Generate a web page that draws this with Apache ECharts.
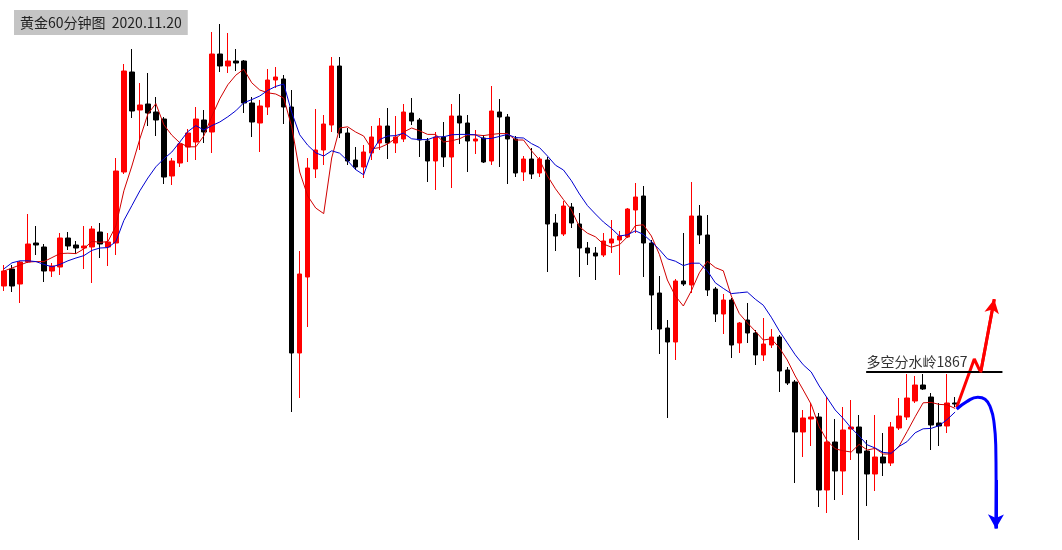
<!DOCTYPE html>
<html>
<head>
<meta charset="utf-8">
<script src="https://cdn.jsdelivr.net/npm/echarts@6/dist/echarts.min.js"></script>
<style>
html,body{margin:0;padding:0;background:#fff;}
#chart{width:1062px;height:550px;}
</style>
</head>
<body>
<div id="chart"></div>
<script>
// ---- data (gold, 60-minute bars, up to 2020.11.20) ----
var titleText = '黄金60分钟图  2020.11.20';
var levelLabel = '多空分水岭1867';
var levelValue = 1867;

var opens = [1888.5,1892.75,1889,1894.5,1899.25,1898.25,1892.25,1893.25,1900.5,1898.75,
1898,1898.25,1902,1898.25,1899.25,1917,1942,1932.5,1934,1932,
1930.25,1916,1919.25,1923.25,1924.5,1930,1927,1946.5,1943.5,1944.75,
1944.75,1934.25,1929.25,1933.25,1940,1940.25,1933.25,1871.75,1890.75,1917.75,
1922.5,1928.75,1943.5,1926.75,1920,1918.25,1921.75,1924.25,1928.5,1924.25,
1925.25,1931.75,1930,1924.75,1919.75,1925.75,1920.75,1931,1929.25,1924.75,
1925.5,1919.75,1932,1930.75,1925.25,1917,1920.25,1916.75,1920,1904.25,
1901.5,1908.25,1904,1898,1896.75,1896.25,1899.25,1900,1900.75,1907.5,
1911,1899.25,1886.75,1878,1874.5,1889.75,1888.75,1906,1901.25,1887.75,
1881.5,1885,1874.25,1880,1876.75,1871.25,1873.75,1875.75,1867.5,1864.5,
1852,1855.25,1855.75,1837.5,1849.5,1842.25,1852.75,1853.25,1847.25,1841.5,
1845.75,1844.25,1853,1855.75,1859.75,1863.75,1860.75,1854.25,1853.5,1859.25];

var closes = [1892.25,1888.5,1894.5,1899,1898.75,1892.25,1893.5,1900.5,1898.5,1898,
1898.5,1902.75,1899,1899.5,1917.25,1942.25,1932.25,1933.75,1931.75,1930,
1915.75,1919.75,1924,1926.75,1930.25,1927,1946.5,1943.5,1944.75,1944.25,
1934.25,1929.5,1933.5,1940,1940.75,1933.25,1871.75,1891.5,1918,1922.5,
1929,1943.5,1926.75,1919.75,1918.25,1922,1925.75,1928.5,1924.25,1925.75,
1932,1929.75,1925,1919.75,1925.75,1920.75,1931,1929.25,1924.75,1925.25,
1919.5,1932.25,1930.75,1925.25,1916.75,1920.25,1916.5,1920.25,1904,1901,
1908.5,1904.25,1898,1896.75,1896,1899.75,1900.25,1901,1907.75,1910.75,
1899.25,1886.25,1877.75,1874.5,1889.75,1889,1906,1901.25,1887.5,1881.5,
1885,1873.75,1879.25,1876.75,1871.25,1874,1875.75,1867.25,1864.25,1852,
1855.5,1855.75,1837.5,1849.5,1842.25,1852.5,1853.25,1846.75,1841.5,1845.75,
1844.25,1853.25,1856,1860.5,1863.75,1862.75,1853.75,1853.5,1859.25,1859];

var lows = [1887.25,1887,1884.25,1894.25,1896.25,1889.5,1890.75,1891.25,1897.5,1896.5,
1892.75,1889.25,1895.5,1893.5,1896.25,1916.5,1930.5,1922.5,1928.5,1926,
1914,1913.75,1918.25,1919.5,1920,1924.25,1921.75,1942,1941.75,1942.25,
1931.75,1925.75,1922,1931.25,1938,1929,1857,1860.5,1878.25,1915.5,
1918.75,1927,1925.5,1918.75,1917.5,1915.5,1920,1922.5,1920.25,1921.75,
1924.5,1928.75,1920.75,1914.5,1912.5,1918.25,1913,1924,1917,1921.5,
1919.25,1918.75,1918.25,1914,1915.75,1914.75,1915.25,1915.75,1892,1897.25,
1901,1903,1890.75,1893.75,1890,1895.75,1896.75,1891.25,1900.5,1901.75,
1890.75,1877.5,1871.5,1855.5,1870,1888.5,1886.75,1899,1886,1879.5,
1876.5,1870.5,1871.75,1874.25,1868.75,1869.75,1873,1862,1863.75,1839.25,
1845.75,1848.5,1833.25,1831.75,1835,1836.25,1845,1825,1833.5,1837.25,
1841,1843.5,1852.5,1855,1859.25,1862.5,1847.5,1848.5,1851.75,1858.25];

var highs = [1893.75,1893.75,1894.75,1906.5,1903.5,1899,1894.25,1901.75,1902,1899.75,
1903.5,1903.5,1904.25,1901.75,1920.5,1944,1947.75,1939.25,1941.75,1935.75,
1930.75,1920.5,1924.5,1927.75,1933.25,1932.5,1952,1954,1951.75,1947.75,
1945,1935.75,1935,1942.75,1943.25,1941.25,1937.5,1897.25,1920.5,1932.75,
1931.25,1945.75,1945.75,1928,1923.25,1923.75,1928.5,1930.5,1933,1931,
1934,1935.5,1930.5,1925.5,1927,1929.5,1934,1936.5,1931.25,1927.5,
1926.25,1938.5,1935.25,1931.5,1926,1921,1923,1920.75,1920.75,1906.5,
1909.75,1909.25,1906.75,1899.5,1898.25,1901.75,1905,1902.25,1908,1914.25,
1913.5,1900,1891,1880,1890.25,1901.75,1914.5,1908.75,1906.25,1888.25,
1886.5,1885.5,1879.5,1884.25,1877.5,1880.5,1877.75,1876.25,1868.25,1865,
1857.5,1859.25,1856.75,1860.75,1855.25,1858.25,1860,1856.25,1850,1856.25,
1851.75,1854.5,1860.5,1866.5,1866,1866.5,1861.75,1859.25,1866.5,1860.75];

// fast moving average (red)
var maFast = [1892.25,1893,1893.75,1894.5,1894.6,1894.6,1895.6,1896.6,1896.7,1896.6,
1897.8,1899.7,1899.4,1899.6,1903.5,1912.3,1918.5,1925.3,1931.5,1934.1,
1928.8,1926.2,1924.3,1923.3,1923.3,1926,1930.9,1935.3,1938.8,1941.2,
1942.7,1939.3,1937.5,1936.8,1936.5,1935.5,1928.3,1917,1911,1908,
1906.6,1920.5,1928,1928.3,1927,1926,1922.8,1923.1,1924,1925.4,
1927,1928,1927.3,1926.4,1926.4,1924.5,1924.8,1925.3,1926.3,1926.3,
1926.1,1926.4,1926.6,1926.6,1925,1925,1922.3,1920,1916,1912.8,
1910.1,1907.5,1903.3,1901.7,1900.8,1899,1898.2,1898.8,1900.8,1903.6,
1903.8,1901,1896.4,1890,1886,1883.5,1887.3,1891.8,1894.7,1893.1,
1892.3,1886,1881.6,1879.3,1877.2,1875,1875.3,1873.1,1870,1866,
1862.5,1858.9,1853.3,1849.8,1847.8,1847.3,1847,1848.9,1847.5,1847.9,
1846.5,1846.5,1848.5,1852.1,1855.8,1859.3,1859.4,1858.9,1858.8,1857.9];

// slow moving average (blue)
var maSlow = [1892.8,1894.3,1894.8,1894.8,1894.6,1893.9,1893.3,1893.9,1894.8,1895.5,
1896.1,1897.4,1898,1898.1,1899.6,1904.9,1908.6,1912.3,1915.5,1918.3,
1920.3,1922,1924.5,1927.1,1928.6,1927.5,1928.6,1929.5,1930.8,1932.3,
1934.3,1935.1,1936,1937.4,1938.4,1939,1931.9,1926.3,1923.7,1921.8,
1921,1922.3,1921.7,1919.8,1917.6,1916.3,1922,1925.1,1926,1926.1,
1926.7,1925.3,1925.1,1925.1,1925.8,1925.8,1926.3,1926.4,1926.4,1926.3,
1925.3,1925.4,1925.9,1926.4,1925.6,1925.5,1924.1,1923.1,1921,1918.7,
1917.5,1914.8,1911.5,1908.6,1906.5,1904.5,1902.9,1901,1901.3,1902.3,
1901.4,1899.6,1897.6,1895.3,1894.7,1893.6,1894.2,1894.2,1892.3,1889.3,
1887.9,1886.6,1886.8,1887,1885.2,1883.7,1880.7,1877.3,1874.3,1871.3,
1868.8,1867,1863.5,1860.5,1857.5,1855.4,1853,1851,1848.8,1848,
1846.9,1846.7,1848.4,1849.6,1851.8,1852.8,1852.9,1853.6,1855.1,1857];

// drawn scenario arrows: x in bar index units, y in price
var upPathX = [119.2, 121.4, 122.2, 123.9];
var upPathY = [1858.1, 1870.25, 1866.9, 1885.2];
var downPathX = [119.2, 120.46, 121.84, 122.75, 123.46, 123.88, 124.09, 124.13, 124.1];
var downPathY = [1857.7, 1859.6, 1860.7, 1860.2, 1857.9, 1854.2, 1848.3, 1840, 1827.9];
var levelStartX = 107.9, levelEndX = 124.9;

var totalSlots = 132;
var categories = [];
for (var k = 0; k < totalSlots; k++) categories.push(String(k + 1));

// ---- build ----
var candleData = opens.map(function (o, i) { return [o, closes[i], lows[i], highs[i]]; });
function pairs(xs, ys) { return xs.map(function (x, i) { return [x, ys[i]]; }); }
var upPts = pairs(upPathX, upPathY);
var downPts = pairs(downPathX, downPathY);

var chart = echarts.init(document.getElementById('chart'), null, {renderer: 'canvas'});
chart.setOption({
  animation: false,
  backgroundColor: '#ffffff',
  title: {
    text: titleText,
    left: 14, top: 10,
    backgroundColor: '#c4c4c4',
    padding: [5, 6, 5, 6],
    textStyle: {fontSize: 14, fontWeight: 'normal', color: '#222', fontFamily: 'Noto Sans CJK SC', lineHeight: 15}
  },
  grid: {left: -1, top: 0, width: totalSlots * 8, height: 550, containLabel: false},
  xAxis: [
    {type: 'category', data: categories, show: false, boundaryGap: true},
    {type: 'value', min: -0.5, max: totalSlots - 0.5, show: false}
  ],
  yAxis: {type: 'value', min: 1822.5, max: 1960, show: false, splitLine: {show: false}},
  series: [
    {
      type: 'candlestick', data: candleData, barWidth: 5,
      itemStyle: {color: '#ff0000', color0: '#000000', borderColor: '#ff0000', borderColor0: '#000000', borderWidth: 1}
    },
    {type: 'line', data: maFast, showSymbol: false, symbol: 'none', lineStyle: {color: '#d00000', width: 1}},
    {type: 'line', data: maSlow, showSymbol: false, symbol: 'none', lineStyle: {color: '#0000d0', width: 1}},
    {
      type: 'line', xAxisIndex: 1, data: [[levelStartX, levelValue], [levelEndX, levelValue]],
      symbol: 'none', lineStyle: {color: '#000', width: 2},
      markLine: {
        silent: true, symbol: ['none', 'none'],
        lineStyle: {color: '#000', width: 2, type: 'solid'},
        label: {show: true, position: 'insideStartTop', formatter: levelLabel, color: '#333', fontSize: 14,
                fontFamily: 'Noto Sans CJK SC', distance: [0, 3]},
        data: [[{coord: [levelStartX, levelValue]}, {coord: [levelEndX, levelValue]}]]
      }
    },
    {
      type: 'line', xAxisIndex: 1, data: upPts, symbol: 'none',
      lineStyle: {color: '#ff0000', width: 3},
      markLine: {
        silent: true, symbol: ['none', 'arrow'], symbolSize: [11, 14],
        lineStyle: {color: '#ff0000', width: 3, type: 'solid'}, label: {show: false},
        data: [[{coord: upPts[upPts.length - 2]}, {coord: upPts[upPts.length - 1]}]]
      }
    },
    {
      type: 'line', xAxisIndex: 1, data: downPts, symbol: 'none', smooth: 0.5,
      lineStyle: {color: '#0000ff', width: 3},
      markLine: {
        silent: true, symbol: ['none', 'arrow'], symbolSize: [12, 14],
        lineStyle: {color: '#0000ff', width: 3, type: 'solid'}, label: {show: false},
        data: [[{coord: downPts[downPts.length - 2]}, {coord: downPts[downPts.length - 1]}]]
      }
    }
  ]
});
</script>
</body>
</html>
